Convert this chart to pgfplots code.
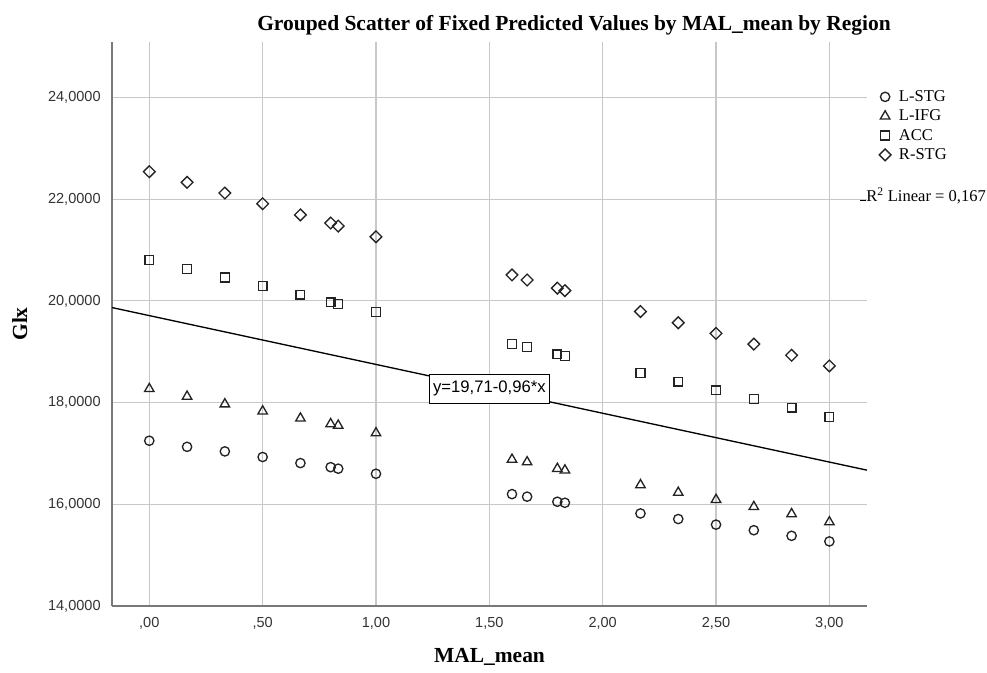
\documentclass[border=0pt]{standalone}
\usepackage{pgfplots}
\pgfplotsset{compat=1.18}
\usepackage{fontspec}
\setmainfont{Liberation Serif}
\newfontfamily\arial{Liberation Sans}
\definecolor{gridc}{RGB}{200,200,200}
\definecolor{axc}{RGB}{120,120,120}
\definecolor{mk}{RGB}{35,35,35}

\pgfplotstableread{
x y
0 17.25
0.16667 17.13
0.33333 17.04
0.5 16.93
0.66667 16.81
0.8 16.73
0.83333 16.70
1 16.60
1.6 16.20
1.66667 16.15
1.8 16.05
1.83333 16.03
2.16667 15.82
2.33333 15.71
2.5 15.60
2.66667 15.49
2.83333 15.38
3 15.27
}\lstg
\pgfplotstableread{
x y
0 18.27
0.16667 18.12
0.33333 17.97
0.5 17.83
0.66667 17.69
0.8 17.58
0.83333 17.55
1 17.40
1.6 16.88
1.66667 16.83
1.8 16.70
1.83333 16.67
2.16667 16.38
2.33333 16.23
2.5 16.09
2.66667 15.95
2.83333 15.81
3 15.65
}\lifg
\pgfplotstableread{
x y
0 20.80
0.16667 20.63
0.33333 20.46
0.5 20.29
0.66667 20.12
0.8 19.97
0.83333 19.94
1 19.78
1.6 19.15
1.66667 19.09
1.8 18.95
1.83333 18.92
2.16667 18.58
2.33333 18.41
2.5 18.24
2.66667 18.07
2.83333 17.90
3 17.72
}\acc
\pgfplotstableread{
x y
0 22.54
0.16667 22.33
0.33333 22.12
0.5 21.91
0.66667 21.69
0.8 21.53
0.83333 21.47
1 21.26
1.6 20.51
1.66667 20.41
1.8 20.25
1.83333 20.20
2.16667 19.79
2.33333 19.57
2.5 19.36
2.66667 19.15
2.83333 18.93
3 18.72
}\rstg

\begin{document}
\begin{tikzpicture}
\path[use as bounding box] (0pt,0pt) rectangle (740.25pt,-504.75pt);
\begin{axis}[
  at={(84pt,-31.5pt)}, anchor=north west,
  scale only axis, width=566.25pt, height=423pt,
  xmin=-0.1645, xmax=3.166, ymin=14, ymax=25.09,
  axis x line*=bottom, axis y line*=left,
  axis line style={draw=axc, line width=0.9pt},
  xtick={0,0.5,1,1.5,2,2.5,3},
  xticklabels={{,00},{,50},{1,00},{1,50},{2,00},{2,50},{3,00}},
  ytick={14,16,18,20,22,24},
  yticklabels={{14,0000},{16,0000},{18,0000},{20,0000},{22,0000},{24,0000}},
  major tick length=0pt,
  grid=major,
  major grid style={draw=gridc, line width=0.9pt},
  ticklabel style={font=\arial\fontsize{10.9}{13}\selectfont, text=black!80},
  xtick pos=bottom, ytick pos=left,
  x tick label style={yshift=-5pt},
  y tick label style={xshift=-5pt},
  clip=false,
  legend cell align=left,
  legend image code/.code={\draw[#1] plot coordinates {(0pt,0.3pt)};},
  legend style={at={(rel axis cs:1,1)}, anchor=north west, xshift=9pt, yshift=-35.5pt,
    draw=none, fill=none, inner sep=0pt,
    font=\fontsize{12.4}{14}\selectfont,
    nodes={inner sep=0pt, text height=9pt, text depth=2.5pt},
    row sep=3pt,
    /tikz/every odd column/.append style={column sep=6pt}},
]
\addplot[only marks, mark=o, mark size=3.5pt, draw=mk, line width=1pt] table[x=x,y=y]{\lstg};
\addlegendentry{L-STG}
\addplot[only marks, mark=triangle, mark size=4.1pt, draw=mk, line width=1pt] table[x=x,y=y]{\lifg};
\addlegendentry{L-IFG}
\addplot[only marks, mark=square, mark size=3.3pt, draw=mk, line width=1pt] table[x=x,y=y]{\acc};
\addlegendentry{ACC}
\addplot[only marks, mark=square, mark size=3.1pt, mark options={rotate=45}, draw=mk, line width=1pt] table[x=x,y=y]{\rstg};
\addlegendentry{R-STG}
\addplot[black, line width=1pt, forget plot] coordinates {(-0.1645,19.868) (3.166,16.671)};
\node[draw=black, line width=0.7pt, fill=white, font=\arial\fontsize{12.5}{14}\selectfont,
  inner xsep=2.6pt, inner ysep=0pt, minimum height=21.75pt] at (axis cs:1.5,18.27) {y=19,71-0,96*x};
\end{axis}
\node[anchor=base, font=\bfseries\fontsize{16.1}{19}\selectfont] at (430.5pt,-23pt)
  {Grouped Scatter of Fixed Predicted Values by MAL\_mean by Region};
\node[anchor=base, font=\bfseries\fontsize{16.1}{19}\selectfont] at (367.1pt,-497pt) {MAL\_mean};
\node[anchor=base, rotate=90, font=\bfseries\fontsize{16.1}{19}\selectfont] at (20.25pt,-243pt) {Glx};
\draw[black, line width=0.8pt] (645pt,-150.5pt) -- (649.5pt,-150.5pt);
\node[anchor=base west, inner sep=0pt, font=\fontsize{12.4}{14}\selectfont] at (649.5pt,-151pt) {R\textsuperscript{2} Linear = 0,167};
\end{tikzpicture}
\end{document}
